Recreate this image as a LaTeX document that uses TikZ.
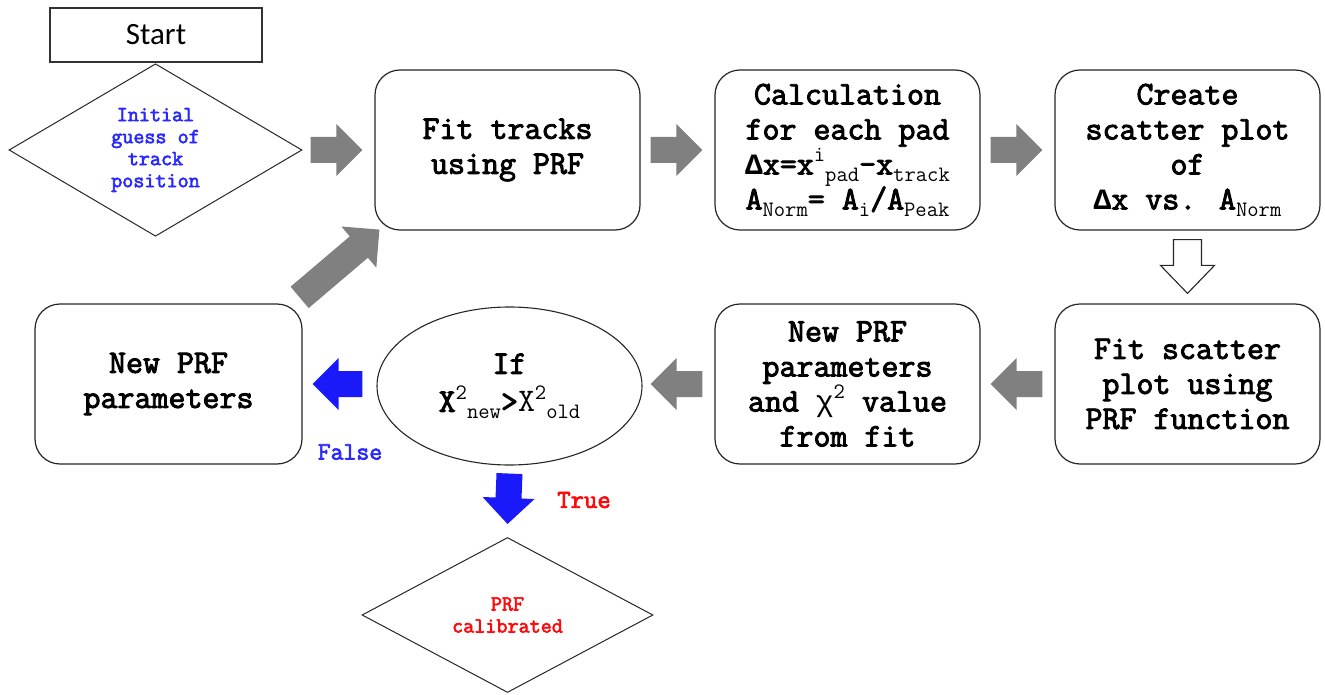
\documentclass[tikz,border=0pt]{standalone}
\usepackage{fontspec}
\newfontfamily\lmono{Liberation Mono}
\newfontfamily\carl{Carlito}
\newfontfamily\cb{Latin Modern Mono}[FakeBold=2.8]
\newfontfamily\cm{Latin Modern Mono}
\usetikzlibrary{shapes.geometric,calc}
\definecolor{arrgray}{RGB}{128,128,128}
\definecolor{arrblue}{RGB}{25,25,250}
\definecolor{txtblue}{RGB}{40,40,255}
\definecolor{txtred}{RGB}{255,10,10}
\newcommand\subx[1]{\raisebox{-0.2em}{\cm\fontsize{22}{22}\selectfont #1}}
\newcommand\supx[1]{\raisebox{0.38em}{\cm\fontsize{22}{22}\selectfont #1}}
\newcommand\Dlt{{\lmono\fontsize{29.5}{35}\selectfont\bfseries\symbol{"0394}}}
\newcommand\chix{{\lmono\fontsize{29.5}{35}\selectfont\symbol{"03C7}}}
% block arrow: #1 style, #2 from, #3 to, #4 half tail width, #5 half head width, #6 head length
\newcommand\blockarr[6]{%
  \path[#1] ($(#2)!#4pt!90:(#3)$) -- ($(#3)!#6pt!(#2)!#4pt!90:(#3)$)
    -- ($(#3)!#6pt!(#2)!#5pt!90:(#3)$) -- (#3)
    -- ($(#3)!#6pt!(#2)!#5pt!-90:(#3)$) -- ($(#3)!#6pt!(#2)!#4pt!-90:(#3)$)
    -- ($(#2)!#4pt!-90:(#3)$) -- cycle;}
\begin{document}
\begin{tikzpicture}[x=1pt,y=-1pt,
  box/.style={draw=black!85, line width=1.2pt, rounded corners=25pt, fill=white,
    minimum width=265pt, minimum height=160pt, align=center, inner sep=0pt,
    font=\cb\fontsize{33}{35}\selectfont},
  smalltxt/.style={font=\cb\fontsize{21.5}{22}\selectfont, align=center},
  dia/.style={draw=black!85, line width=1pt, diamond, inner sep=0pt, smalltxt},
  grayarr/.style={fill=arrgray},
  bluearr/.style={fill=arrblue},
  hollowarr/.style={draw=black!85, line width=1.1pt, fill=white, line join=miter}]
\useasboundingbox (0,0) rectangle (1325,695);

\node[draw=black!80, line width=1.2pt, minimum width=212pt, minimum height=54pt, inner sep=0pt,
  font=\carl\fontsize{31}{31}\selectfont] (start) at (156,35) {Start};
\node[dia, minimum width=293pt, minimum height=160pt, text=txtblue] (init) at (155.5,150)
  {Initial\\guess of\\track\\position};

\node[box] (fit) at (507.5,150) {Fit tracks\\using PRF};
\node[box] (calc) at (847.5,150) {Calculation\\for each pad\\%
  \Dlt x=x\supx{i}\subx{pad}-x\subx{track}\\%
  A\subx{Norm}= A\subx{i}/A\subx{Peak}};
\node[box] (scat) at (1187.5,150) {Create\\scatter plot\\of\\\Dlt x vs. A\subx{Norm}};
\node[box] (fitsc) at (1187.5,384) {Fit scatter\\plot using\\PRF function};
\node[box] (params) at (847.5,384) {New PRF\\parameters\\and \chix\supx{2} value\\from fit};
\node[draw=black!85, line width=1.1pt, ellipse, minimum width=265pt, minimum height=158pt,
  inner sep=0pt, align=center, font=\cb\fontsize{33}{38}\selectfont] (ifel) at (509.5,386)
  {If\\X\supx{2}\subx{new}>{\cm X}\supx{2}\subx{old}};
\node[box, minimum width=267pt] (newprf) at (168.5,384) {New PRF\\parameters};
\node[dia, minimum width=291pt, minimum height=155pt, text=txtred] (cal) at (507.5,615)
  {PRF\\calibrated};

\node[font=\cb\fontsize{25}{25}\selectfont, text=txtblue] (false) at (350,452) {False};
\node[font=\cb\fontsize{26}{26}\selectfont, text=txtred] (true) at (584,500) {True};

% arrow end points
\coordinate (a1s) at ($(init.east)+(8,0)$);   \coordinate (a1e) at ($(fit.west)+(-12,0)$);
\coordinate (a2s) at ($(fit.east)+(10,0)$);   \coordinate (a2e) at ($(calc.west)+(-12,0)$);
\coordinate (a3s) at ($(calc.east)+(10,0)$);  \coordinate (a3e) at ($(scat.west)+(-12,0)$);
\coordinate (a4s) at ($(scat.south)+(0,9)$);  \coordinate (a4e) at ($(fitsc.north)+(0,-10)$);
\coordinate (a5s) at ($(fitsc.west)+(-12,0)$); \coordinate (a5e) at ($(params.east)+(10,0)$);
\coordinate (a6s) at ($(params.west)+(-12,0)$); \coordinate (a6e) at ($(ifel.east)+(8,-2)$);
\coordinate (a7s) at ($(ifel.west)+(-14,-2)$); \coordinate (a7e) at ($(newprf.east)+(10,0)$);
\coordinate (a8s) at ($(ifel.south)+(0,8)$); \coordinate (a8e) at ($(cal.north)+(0,-13)$);
\coordinate (a9s) at ($(newprf.north east)+(-3,-6)$); \coordinate (a9e) at ($(fit.south west)+(5,-1)$);

\blockarr{grayarr}{a1s}{a1e}{13}{26}{26}
\blockarr{grayarr}{a2s}{a2e}{13}{26}{26}
\blockarr{grayarr}{a3s}{a3e}{13}{26}{26}
\blockarr{hollowarr}{a4s}{a4e}{14}{27}{28}
\blockarr{grayarr}{a5s}{a5e}{13}{26}{26}
\blockarr{grayarr}{a6s}{a6e}{13}{26}{26}
\blockarr{bluearr}{a7s}{a7e}{13}{26}{26}
\blockarr{bluearr}{a8s}{a8e}{13}{26}{26}
\blockarr{grayarr}{a9s}{a9e}{14}{27}{27}
\end{tikzpicture}
\end{document}
